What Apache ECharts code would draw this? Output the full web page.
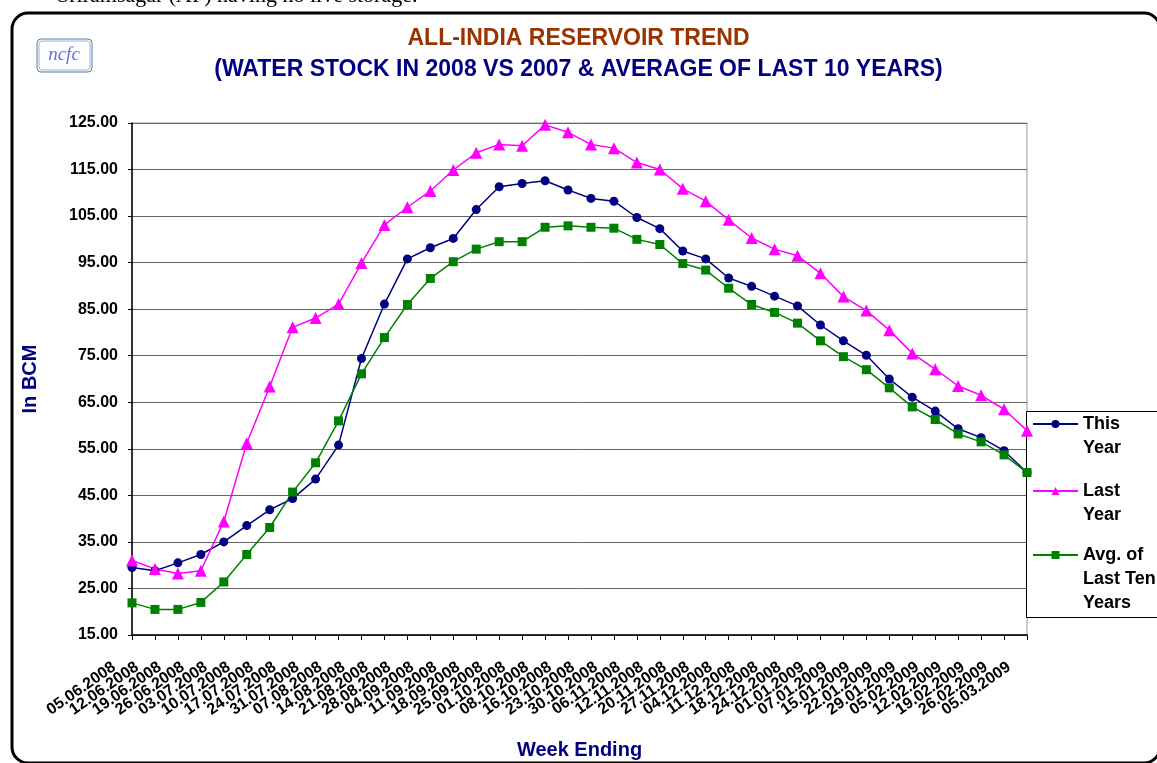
<!DOCTYPE html>
<html>
<head>
<meta charset="utf-8">
<title>All-India Reservoir Trend</title>
<script src="https://cdn.jsdelivr.net/npm/echarts@6/dist/echarts.min.js"></script>
<style>
    html, body { margin: 0; padding: 0; background: #fff; }
    #chart { width: 1157px; height: 763px; }
</style>
</head>
<body>
<div id="chart"></div>
<script>
// week ending dates (x axis)
var weeks = [
    '05.06.2008', '12.06.2008', '19.06.2008', '26.06.2008', '03.07.2008',
    '10.07.2008', '17.07.2008', '24.07.2008', '31.07.2008', '07.08.2008',
    '14.08.2008', '21.08.2008', '28.08.2008', '04.09.2008', '11.09.2008',
    '18.09.2008', '25.09.2008', '01.10.2008', '08.10.2008', '16.10.2008',
    '23.10.2008', '30.10.2008', '06.11.2008', '12.11.2008', '20.11.2008',
    '27.11.2008', '04.12.2008', '11.12.2008', '18.12.2008', '24.12.2008',
    '01.01.2009', '07.01.2009', '15.01.2009', '22.01.2009', '29.01.2009',
    '05.02.2009', '12.02.2009', '19.02.2009', '26.02.2009', '05.03.2009'
];

// stock in BCM
var thisYear = [
    29.5, 28.8, 30.5, 32.3, 35.0, 38.5, 41.9, 44.3, 48.5, 55.8,
    74.4, 86.1, 95.8, 98.2, 100.2, 106.4, 111.3, 112.0, 112.6, 110.6,
    108.8, 108.2, 104.7, 102.3, 97.5, 95.8, 91.7, 89.9, 87.8, 85.7,
    81.6, 78.2, 75.1, 70.0, 66.1, 63.1, 59.3, 57.4, 54.6, 49.9
];
var lastYear = [
    31.0, 29.2, 28.2, 28.8, 39.4, 56.2, 68.4, 81.1, 83.1, 86.1,
    94.9, 103.1, 106.9, 110.4, 114.9, 118.6, 120.4, 120.1, 124.6, 123.0,
    120.4, 119.6, 116.5, 115.0, 110.9, 108.2, 104.2, 100.3, 97.9, 96.5,
    92.7, 87.7, 84.7, 80.5, 75.5, 72.1, 68.5, 66.5, 63.5, 58.9
];
var avgTenYears = [
    21.9, 20.5, 20.5, 22.0, 26.4, 32.3, 38.1, 45.7, 52.0, 61.0,
    71.1, 78.9, 86.0, 91.6, 95.2, 97.9, 99.5, 99.5, 102.6, 102.9,
    102.6, 102.4, 100.0, 98.9, 94.8, 93.4, 89.5, 86.0, 84.3, 82.0,
    78.2, 74.8, 72.0, 68.1, 64.0, 61.3, 58.2, 56.5, 53.7, 49.9
];

// y axis range
var yMin = 15;
var yMax = 125;
var yStep = 10;

var seriesNames = ['This Year', 'Last Year', 'Avg. of Last Ten Years'];
var legendText = ['This\nYear', 'Last\nYear', 'Avg. of\nLast Ten\nYears'];

var font = '"Liberation Sans", Arial, sans-serif';

// one legend per item; blank lines on top keep the first text line on the icon
var buildLegend = function(i, top) {
    var lines = legendText[i].split('\n');
    var pad = '';
    for (var k = 1; k < lines.length; k++) {
        pad += '\n';
    }
    return {
        data: [seriesNames[i]],
        orient: 'vertical',
        left: 1032,
        top: top,
        padding: 0,
        itemWidth: 45,
        itemHeight: 10,
        itemGap: 5,
        selectedMode: false,
        formatter: function() { return pad + legendText[i]; },
        textStyle: {
            color: '#000',
            fontFamily: font,
            fontWeight: 'bold',
            fontSize: 18,
            lineHeight: 24
        }
    };
};

var buildSeries = function(name, data, color, symbol, size) {
    return {
        name: name,
        type: 'line',
        data: data,
        symbol: symbol,
        symbolSize: size,
        itemStyle: { color: color },
        lineStyle: { color: color, width: 1.5 },
        emphasis: { disabled: true }
    };
};

var chart = echarts.init(document.getElementById('chart'));

var option = {
    animation: false,
    backgroundColor: '#fff',
    title: {
        text: 'ALL-INDIA RESERVOIR TREND',
        subtext: '(WATER STOCK IN 2008 VS 2007 & AVERAGE OF LAST 10 YEARS)',
        left: 'center',
        top: 22,
        itemGap: 8,
        textStyle: { color: '#993300', fontFamily: font, fontWeight: 'bold', fontSize: 23 },
        subtextStyle: { color: '#000080', fontFamily: font, fontWeight: 'bold', fontSize: 23 }
    },
    legend: [
        buildLegend(0, 388),
        buildLegend(1, 455),
        buildLegend(2, 495)
    ],
    grid: {
        left: 132,
        right: 130,
        top: 123,
        bottom: 128,
        outerBoundsMode: 'none',
        show: true,
        borderColor: '#999',
        borderWidth: 1
    },
    xAxis: {
        type: 'category',
        data: weeks,
        boundaryGap: false,
        name: 'Week Ending',
        nameLocation: 'middle',
        nameGap: 105,
        nameTextStyle: { color: '#000080', fontFamily: font, fontWeight: 'bold', fontSize: 20 },
        axisLine: { lineStyle: { color: '#000', width: 1.5 } },
        axisTick: { show: true, interval: 0, length: 5, lineStyle: { color: '#000' } },
        axisLabel: {
            interval: 0,
            rotate: 35,
            margin: 18,
            padding: [0, 22, 0, 0],
            color: '#000',
            fontFamily: font,
            fontWeight: 'bold',
            fontSize: 16
        },
        splitLine: { show: false }
    },
    yAxis: {
        type: 'value',
        min: yMin,
        max: yMax,
        interval: yStep,
        name: 'In BCM',
        nameLocation: 'middle',
        nameGap: 92,
        nameTextStyle: { color: '#000080', fontFamily: font, fontWeight: 'bold', fontSize: 20 },
        axisLine: { show: true, lineStyle: { color: '#000', width: 1.5 } },
        axisTick: { show: true, length: 4, lineStyle: { color: '#000' } },
        axisLabel: {
            margin: 14,
            color: '#000',
            fontFamily: font,
            fontWeight: 'bold',
            fontSize: 16,
            formatter: function(v) { return v.toFixed(2); }
        },
        splitLine: { lineStyle: { color: '#666', width: 1 } }
    },
    series: [
        buildSeries(seriesNames[0], thisYear, '#000080', 'circle', 9),
        buildSeries(seriesNames[1], lastYear, '#ff00ff', 'triangle', 12),
        buildSeries(seriesNames[2], avgTenYears, '#008000', 'rect', 9)
    ],
    graphic: [
        // line of text cut off above the frame
        {
            type: 'text',
            left: 57,
            top: -15,
            style: {
                text: 'Sriramsagar (AP) having no live storage.',
                font: '22px "Liberation Serif", "Times New Roman", serif',
                fill: '#000'
            }
        },
        // outer rounded frame
        {
            type: 'rect',
            shape: { x: 12, y: 13, width: 1148, height: 750, r: 16 },
            style: { fill: 'none', stroke: '#000', lineWidth: 3 },
            z: 1
        },
        // ncfc logo
        {
            type: 'rect',
            shape: { x: 37, y: 39, width: 55, height: 33, r: 4 },
            style: { fill: '#fff', stroke: '#5f7f7f', lineWidth: 1 }
        },
        {
            type: 'rect',
            shape: { x: 39, y: 41, width: 51, height: 29, r: 3 },
            style: { fill: 'none', stroke: '#a0a8ff', lineWidth: 1 }
        },
        {
            type: 'text',
            x: 64,
            y: 55,
            style: {
                text: 'ncfc',
                font: 'italic 19px "Liberation Serif", "Times New Roman", serif',
                fill: '#6b6bf0',
                align: 'center',
                verticalAlign: 'middle'
            }
        },
        // legend box
        {
            type: 'rect',
            shape: { x: 1026.5, y: 411.5, width: 160, height: 206 },
            style: { fill: '#fff', stroke: '#000', lineWidth: 1 },
            z: 3
        }
    ]
};

chart.setOption(option);
</script>
</body>
</html>
